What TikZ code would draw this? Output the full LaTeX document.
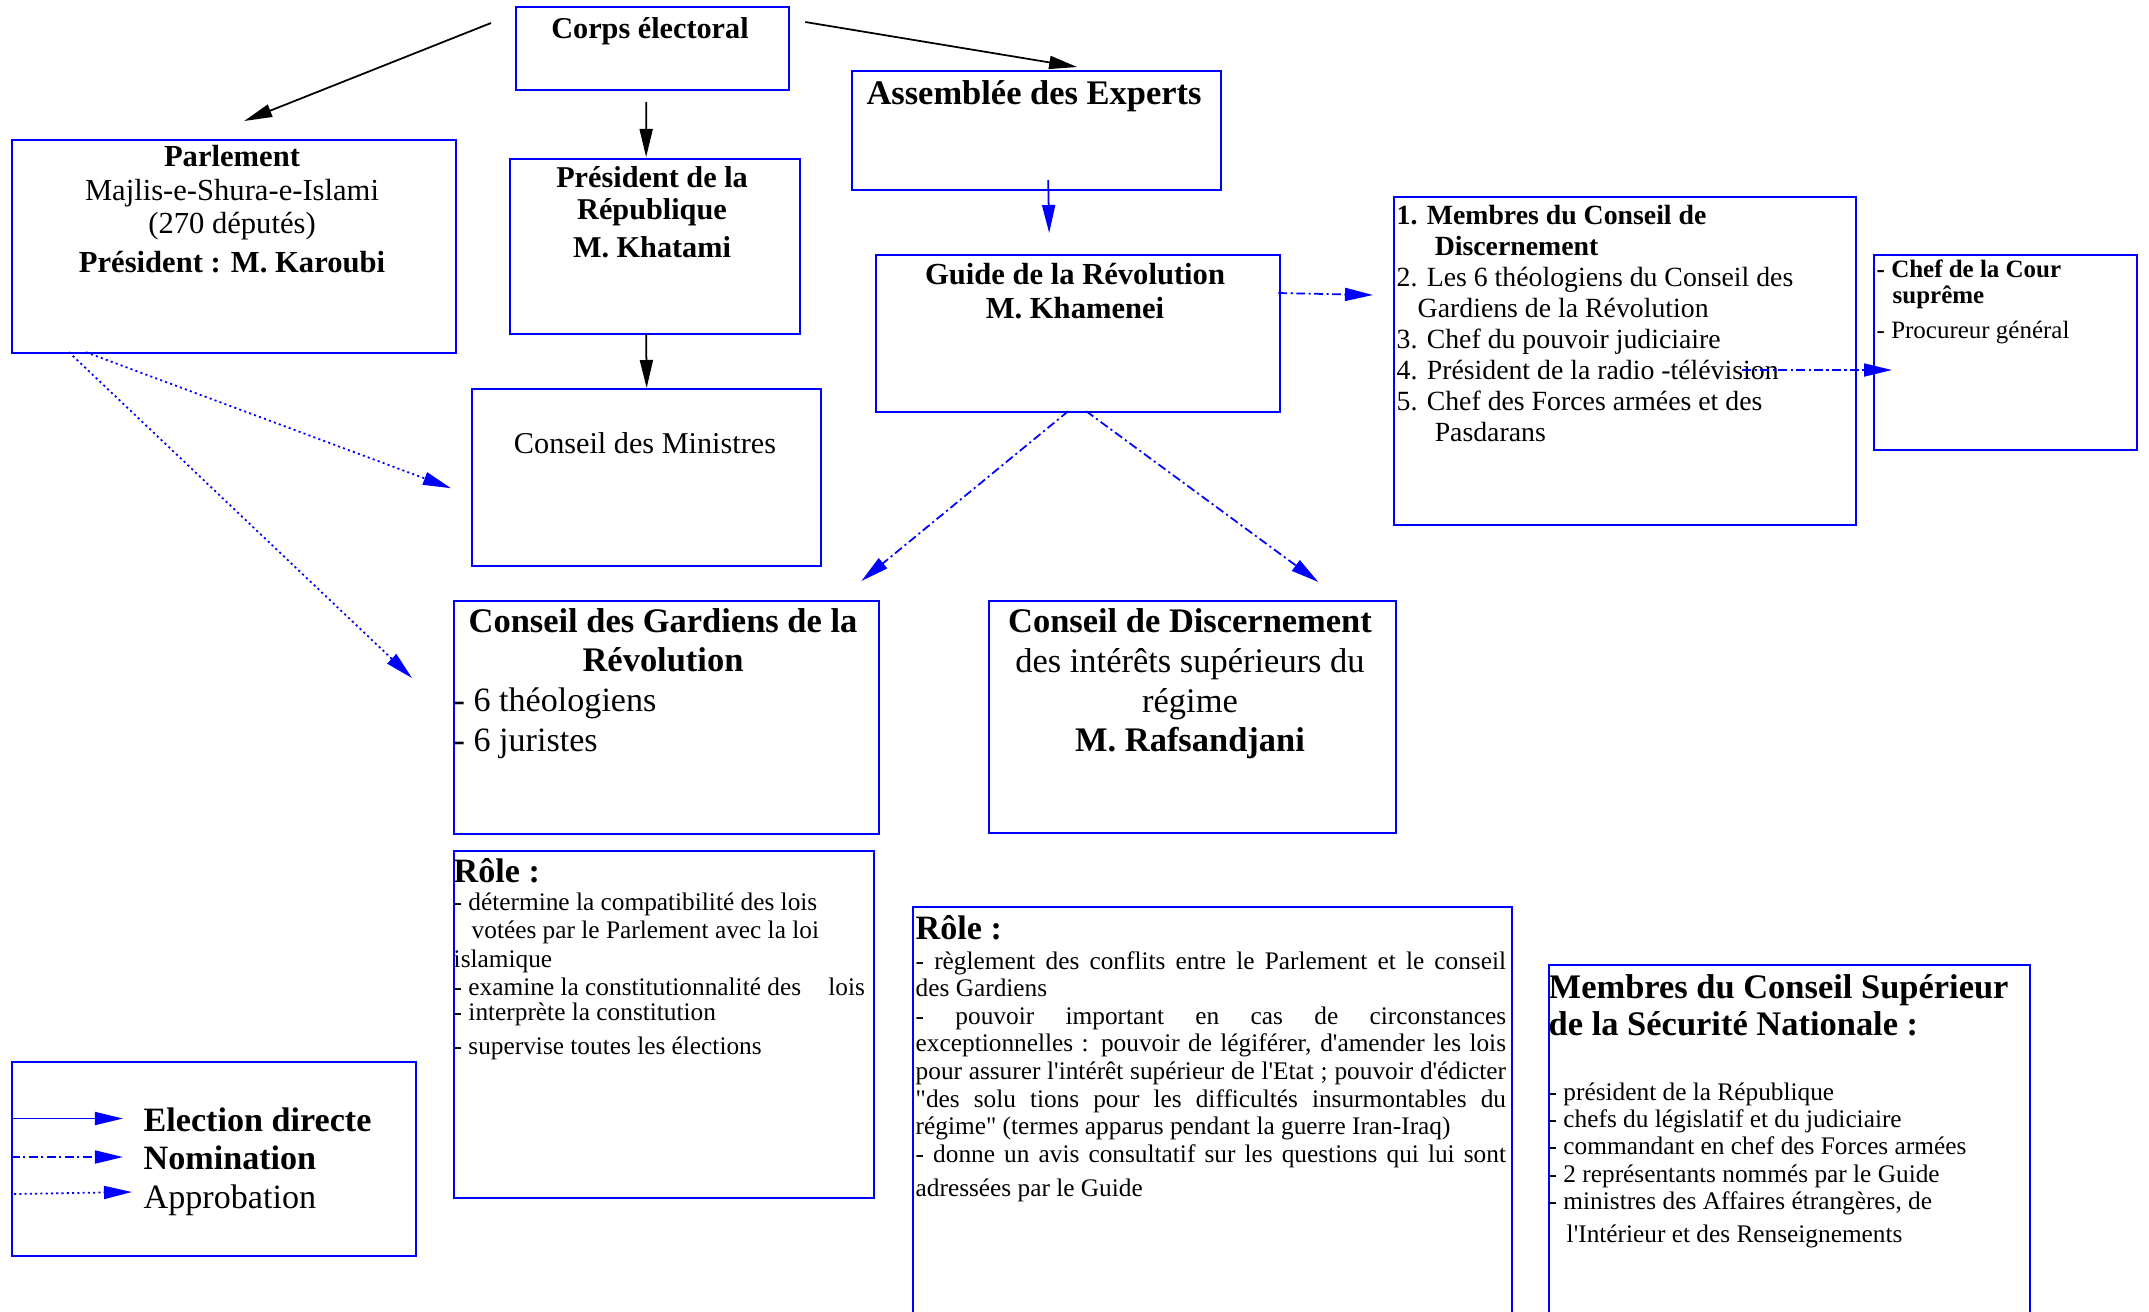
\documentclass[tikz,border=0pt]{standalone}
\usepackage{fontspec}
\setmainfont{Liberation Serif}[Ligatures=TeXOff]
\usetikzlibrary{arrows.meta,calc}

\begin{document}
\begin{tikzpicture}[x=0.01cm, y=-0.01cm,
  boite/.style={draw=blue, line width=0.6pt, inner sep=0pt, anchor=north west},
  txt/.style={inner sep=0pt},
  pointe/.style={-{Triangle[length=2.8mm,width=1.3mm]}},
  elec/.style={pointe, line width=0.5pt},
  nomin/.style={pointe, blue, line width=0.5pt, dash pattern=on 2.5pt off 1pt on 0.6pt off 1pt},
  approb/.style={pointe, blue, line width=0.5pt, dash pattern=on 0.6pt off 0.9pt}]

\useasboundingbox (0,0) rectangle (2149,1311);

% Boites du haut
\node[boite, minimum width=2.73cm, minimum height=0.83cm] (corps) at (515,6) {};
\node[boite, minimum width=3.69cm, minimum height=1.19cm] (assem) at (851,70) {};
\node[boite, minimum width=4.44cm, minimum height=2.13cm] (parl) at (11,139) {};
\node[boite, minimum width=2.90cm, minimum height=1.75cm] (pres) at (509,158) {};
\node[boite, minimum width=3.49cm, minimum height=1.77cm] (minis) at (471,388) {};
\node[boite, minimum width=4.04cm, minimum height=1.57cm] (guide) at (875,254) {};
\node[boite, minimum width=4.62cm, minimum height=3.28cm] (membres) at (1393,196) {};
\node[boite, minimum width=2.63cm, minimum height=1.95cm] (chef) at (1873,254) {};

% Conseils
\node[boite, minimum width=4.25cm, minimum height=2.33cm] (gard) at (453,600) {};
\node[boite, minimum width=4.07cm, minimum height=2.32cm] (disc) at (988,600) {};

% Roles et Conseil Superieur
\node[boite, minimum width=4.20cm, minimum height=3.47cm] (role1) at (453,850) {};
\node[boite, minimum width=5.99cm, minimum height=4.30cm] (role2) at (912,906) {};
\node[boite, minimum width=4.81cm, minimum height=3.70cm] (csn) at (1548,964) {};

% Legende
\node[boite, minimum width=4.04cm, minimum height=1.94cm] (leg) at (11,1061) {};

% Textes du haut
\node[txt, anchor=base, font=\fontsize{8.6}{9.1}\selectfont\bfseries] (corps-t) at (650,38) {Corps électoral};
\node[txt, anchor=base, font=\fontsize{9.8}{11}\selectfont\bfseries] (assem-t) at (1034,104) {Assemblée des Experts};
\node[txt, anchor=north, align=center, font=\fontsize{8.7}{9.4}\selectfont] (parl-t) at (232,145)
  {\textbf{Parlement}\\Majlis-e-Shura-e-Islami\\(270 députés)\\[1.7pt]\textbf{Président : M. Karoubi}};
\node[txt, anchor=north, align=center, font=\fontsize{8.6}{9.1}\selectfont\bfseries] (pres-t) at (652,165.5)
  {Président de la\\République\\[1.7pt]M. Khatami};
\node[txt, anchor=base, font=\fontsize{8.6}{9.1}\selectfont] (minis-t) at (645,453) {Conseil des Ministres};
\node[txt, anchor=north, align=center, font=\fontsize{8.7}{9.4}\selectfont\bfseries] (guide-t) at (1075,263)
  {Guide de la Révolution\\M. Khamenei};
\node[txt, anchor=north west, align=left, font=\fontsize{7.9}{8.8}\selectfont] (membres-t) at (1396,204.5)
  {\textbf{1. Membres du Conseil de}\\
   \hspace*{0.38cm}\textbf{Discernement}\\
   2. Les 6 théologiens du Conseil des\\
   \hspace*{0.21cm}Gardiens de la Révolution\\
   3. Chef du pouvoir judiciaire\\
   4. Président de la radio -télévision\\
   5. Chef des Forces armées et des\\
   \hspace*{0.38cm}Pasdarans};
\node[txt, anchor=north west, align=left, font=\fontsize{7.1}{7.5}\selectfont] (chef-t) at (1876,259)
  {\textbf{- Chef de la Cour}\\
   \hspace*{0.16cm}\textbf{suprême}\\[2.4pt]
   - Procureur général};

% Textes des conseils
\node[txt, anchor=north, align=center, font=\fontsize{9.8}{11.1}\selectfont\bfseries] (gard-t) at (663,608)
  {Conseil des Gardiens de la\\Révolution};
\node[txt, anchor=north west, align=left, font=\fontsize{9.7}{11.4}\selectfont] (gard-l) at (453,687)
  {- 6 théologiens\\- 6 juristes};
\node[txt, anchor=north, align=center, font=\fontsize{9.8}{11.3}\selectfont] (disc-t) at (1190,608)
  {\textbf{Conseil de Discernement}\\des intérêts supérieurs du\\régime\\\textbf{M. Rafsandjani}};

% Roles
\node[txt, anchor=base west, font=\fontsize{9.7}{11}\selectfont\bfseries] (role1-t) at (453,882) {Rôle :};
\node[txt, anchor=north west, align=left, font=\fontsize{7.2}{8}\selectfont] (role1-l) at (453,892.5)
  {- détermine la compatibilité des lois\\
   \hspace*{0.18cm}votées par le Parlement avec la loi\\
   islamique\\
   \makebox[4.11cm][l]{- examine la constitutionnalité des\hfill lois}\\[-0.85pt]
   - interprète la constitution\\[1.7pt]
   - supervise toutes les élections};
\node[txt, anchor=base west, font=\fontsize{9.7}{11}\selectfont\bfseries] (role2-t) at (915,939) {Rôle :};
\node[txt, anchor=north west, align=left, font=\fontsize{7.2}{7.85}\selectfont] (role2-l) at (915,950.5)
  {\makebox[5.9cm][s]{- règlement des conflits entre le Parlement et le conseil}\\
   des Gardiens\\
   \makebox[5.9cm][s]{- pouvoir important en cas de circonstances}\\
   \makebox[5.9cm][s]{exceptionnelles : pouvoir de légiférer, d'amender les lois}\\
   \makebox[5.9cm][s]{pour assurer l'intérêt supérieur de l'Etat ; pouvoir d'édicter}\\
   \makebox[5.9cm][s]{"des solu tions pour les difficultés insurmontables du}\\
   régime" (termes apparus pendant la guerre Iran-Iraq)\\
   \makebox[5.9cm][s]{- donne un avis consultatif sur les questions qui lui sont}\\[1.8pt]
   adressées par le Guide};

% Conseil Superieur de la Securite Nationale
\node[txt, anchor=north west, align=left, font=\fontsize{9.8}{10.5}\selectfont\bfseries] (csn-t) at (1548,974)
  {Membres du Conseil Supérieur\\de la Sécurité Nationale :};
\node[txt, anchor=north west, align=left, font=\fontsize{7.2}{7.7}\selectfont] (csn-l) at (1548,1082.5)
  {- président de la République\\
   - chefs du législatif et du judiciaire\\
   - commandant en chef des Forces armées\\
   - 2 représentants nommés par le Guide\\
   - ministres des Affaires étrangères, de\\[1.7pt]
   \hspace*{0.18cm}l'Intérieur et des Renseignements};

% Legende
\node[txt, anchor=base west, font=\fontsize{9.7}{11}\selectfont\bfseries] (l1) at (143,1131) {Election directe};
\node[txt, anchor=base west, font=\fontsize{9.7}{11}\selectfont\bfseries] (l2) at (143,1169) {Nomination};
\node[txt, anchor=base west, font=\fontsize{9.7}{11}\selectfont] (l3) at (143,1208) {Approbation};
\draw[elec, blue] ($(leg.north west)+(0,57.5)$) -- ($(leg.north west)+(112,57.5)$);
\draw[nomin] ($(leg.north west)+(0,96)$) -- ($(leg.north west)+(112,96)$);
\draw[approb] ($(leg.north west)+(3,133)$) -- ($(leg.north west)+(121,131)$);

% Election directe
\draw[elec] ($(corps.north west)+(-24,17)$) -- ($(parl.north)+(10,-18)$);
\draw[elec] ($(corps.north east)+(15,16)$) -- ($(assem.north)+(40.5,-3)$);
\draw[elec] ($(corps.south)+(-6.5,11)$) -- ($(pres.north)+(-9,-1)$);
\draw[elec] ($(pres.south)+(-9,-1)$) -- (minis.north);
\draw[elec, blue] ($(assem.south)+(11.5,-11)$) -- ($(guide.north)+(-29,-21)$);

% Nomination
\draw[nomin] ($(guide.north east)+(-3,39)$) -- ($(membres.north west)+(-20,99)$);
\draw[nomin] ($(membres.north east)+(-115,174)$) -- ($(chef.north west)+(19,116)$);
\draw[nomin] ($(guide.south)+(-10,-2)$) -- ($(gard.north east)+(-19,-19)$);
\draw[nomin] ($(guide.south)+(8,-2)$) -- ($(disc.north east)+(-79,-18)$);

% Approbation
\draw[approb] ($(parl.south west)+(75,-2)$) -- ($(minis.south west)+(-20,-79)$);
\draw[approb] ($(parl.south west)+(58,-2)$) -- ($(gard.north west)+(-41,78)$);

\end{tikzpicture}
\end{document}
